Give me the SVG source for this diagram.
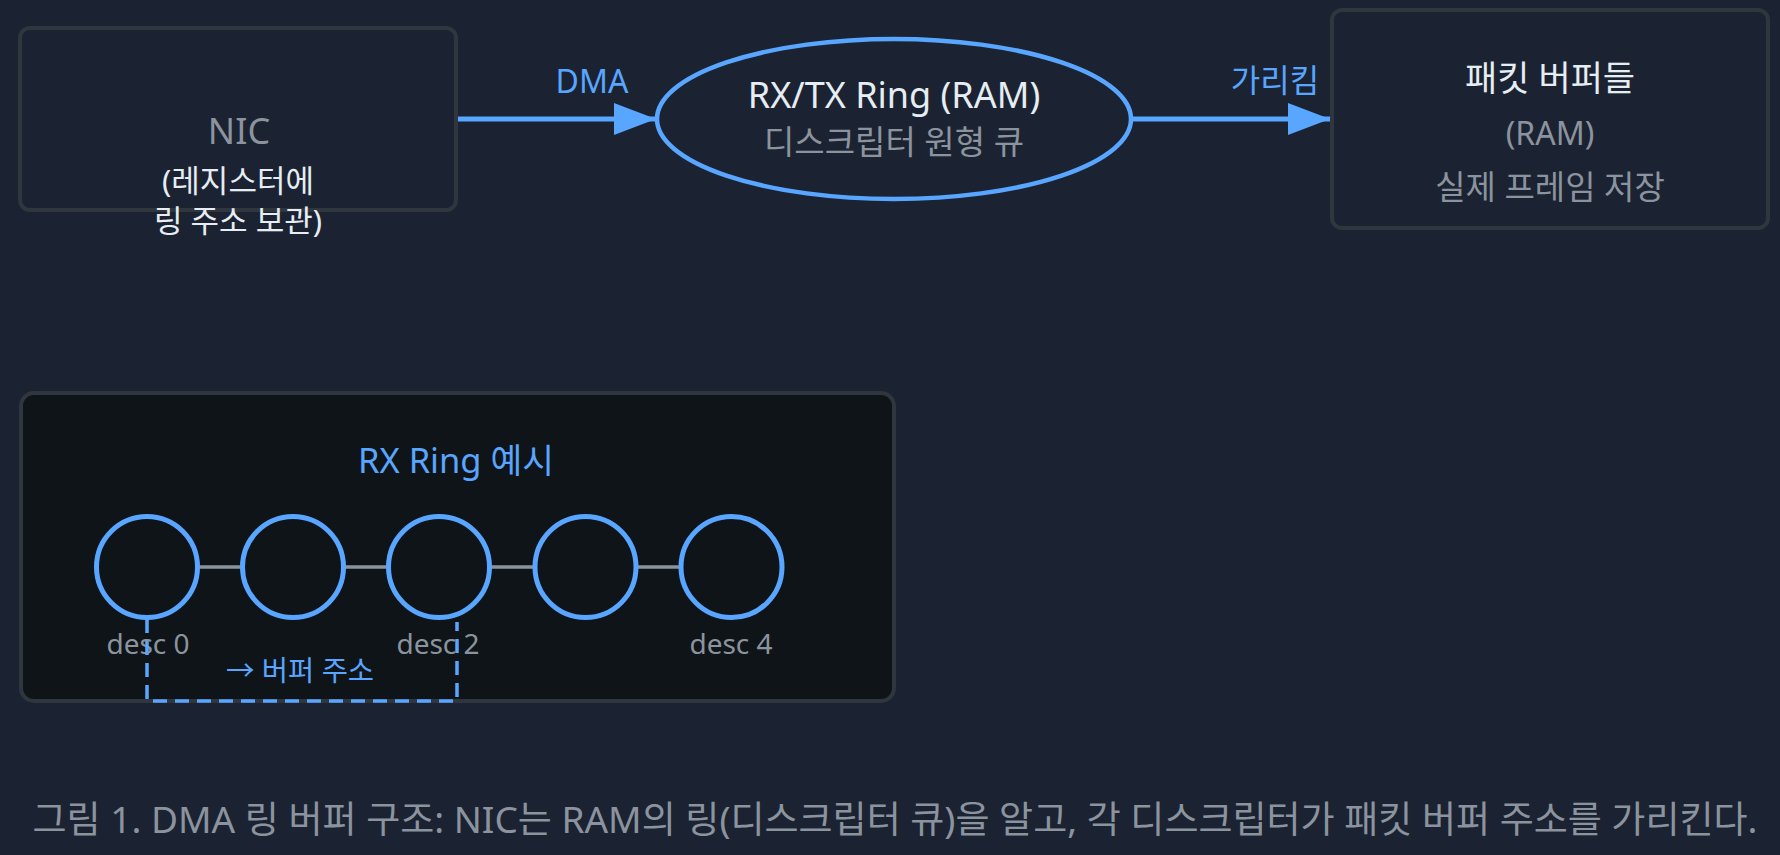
<svg xmlns="http://www.w3.org/2000/svg" width="1780" height="855" viewBox="0 0 1780 855">
  <defs>
    <style>
      text { font-family: "Noto Sans", "Noto Sans CJK KR", sans-serif; text-anchor: middle; }
      .box { fill: #1b2332; stroke: #30363d; stroke-width: 4; }
      .panel { fill: #0f1418; stroke: #30363d; stroke-width: 4; }
      .ring { fill: #1b2332; stroke: #58a6ff; stroke-width: 4.5; }
      .desc { fill: #0f1418; stroke: #58a6ff; stroke-width: 5; }
      .edge { stroke: #58a6ff; stroke-width: 5; fill: none; }
      .link { stroke: #8b949e; stroke-width: 3.5; }
      .dash { stroke: #58a6ff; stroke-width: 3.5; fill: none; stroke-dasharray: 14 8; }
      .t-white { fill: #e6edf3; }
      .t-gray { fill: #8b949e; }
      .t-blue { fill: #58a6ff; }
    </style>
    <marker id="arrow" markerWidth="42" markerHeight="32" refX="42" refY="16" orient="auto" markerUnits="userSpaceOnUse">
      <path d="M0,0 L42,16 L0,32 Z" fill="#58a6ff"/>
    </marker>
  </defs>

  <rect x="0" y="0" width="1780" height="855" fill="#1b2332"/>

  <g id="connectors">
    <line class="edge" x1="457" y1="119" x2="656" y2="119" marker-end="url(#arrow)"/>
    <line class="edge" x1="1133" y1="119" x2="1330" y2="119" marker-end="url(#arrow)"/>
    <text class="t-blue" x="592" y="93" font-size="32">DMA</text>
    <text class="t-blue" x="1275" y="92" font-size="32">가리킴</text>
  </g>

  <g id="nic">
    <rect class="box" x="20" y="28" width="436" height="182" rx="10"/>
    <text class="t-gray" x="239" y="144" font-size="36">NIC</text>
    <text class="t-white" x="238" y="192" font-size="31">(레지스터에</text>
    <text class="t-white" x="238" y="232" font-size="31">링 주소 보관)</text>
  </g>

  <g id="ring">
    <ellipse class="ring" cx="894" cy="119" rx="237" ry="80"/>
    <text class="t-white" x="894" y="108" font-size="36">RX/TX Ring (RAM)</text>
    <text class="t-gray" x="894" y="154" font-size="33">디스크립터 원형 큐</text>
  </g>

  <g id="buffers">
    <rect class="box" x="1332" y="10" width="436" height="218" rx="10"/>
    <text class="t-white" x="1550" y="91" font-size="35">패킷 버퍼들</text>
    <text class="t-gray" x="1550" y="145" font-size="32">(RAM)</text>
    <text class="t-gray" x="1550" y="199" font-size="33">실제 프레임 저장</text>
  </g>

  <g id="rx-ring-example">
    <rect class="panel" x="21" y="393" width="873" height="308" rx="13"/>
    <text class="t-blue" x="456" y="473" font-size="34.5">RX Ring 예시</text>
    <line class="link" x1="198" y1="567" x2="241" y2="567"/>
    <line class="link" x1="345" y1="567" x2="387" y2="567"/>
    <line class="link" x1="491" y1="567" x2="534" y2="567"/>
    <line class="link" x1="637" y1="567" x2="680" y2="567"/>
    <circle class="desc" cx="147" cy="567" r="50.5"/>
    <circle class="desc" cx="293" cy="567" r="50.5"/>
    <circle class="desc" cx="439" cy="567" r="50.5"/>
    <circle class="desc" cx="585.5" cy="567" r="50.5"/>
    <circle class="desc" cx="731.5" cy="567" r="50.5"/>
    <text class="t-gray" x="148" y="654" font-size="28">desc 0</text>
    <text class="t-gray" x="438" y="654" font-size="28">desc 2</text>
    <text class="t-gray" x="731" y="654" font-size="28">desc 4</text>
    <path class="dash" d="M147,619 V701 H457 V622"/>
    <text class="t-blue" x="300" y="681" font-size="28.5">→ 버퍼 주소</text>
  </g>

  <text class="t-gray" x="895" y="833" font-size="37">그림 1. DMA 링 버퍼 구조: NIC는 RAM의 링(디스크립터 큐)을 알고, 각 디스크립터가 패킷 버퍼 주소를 가리킨다.</text>
</svg>
